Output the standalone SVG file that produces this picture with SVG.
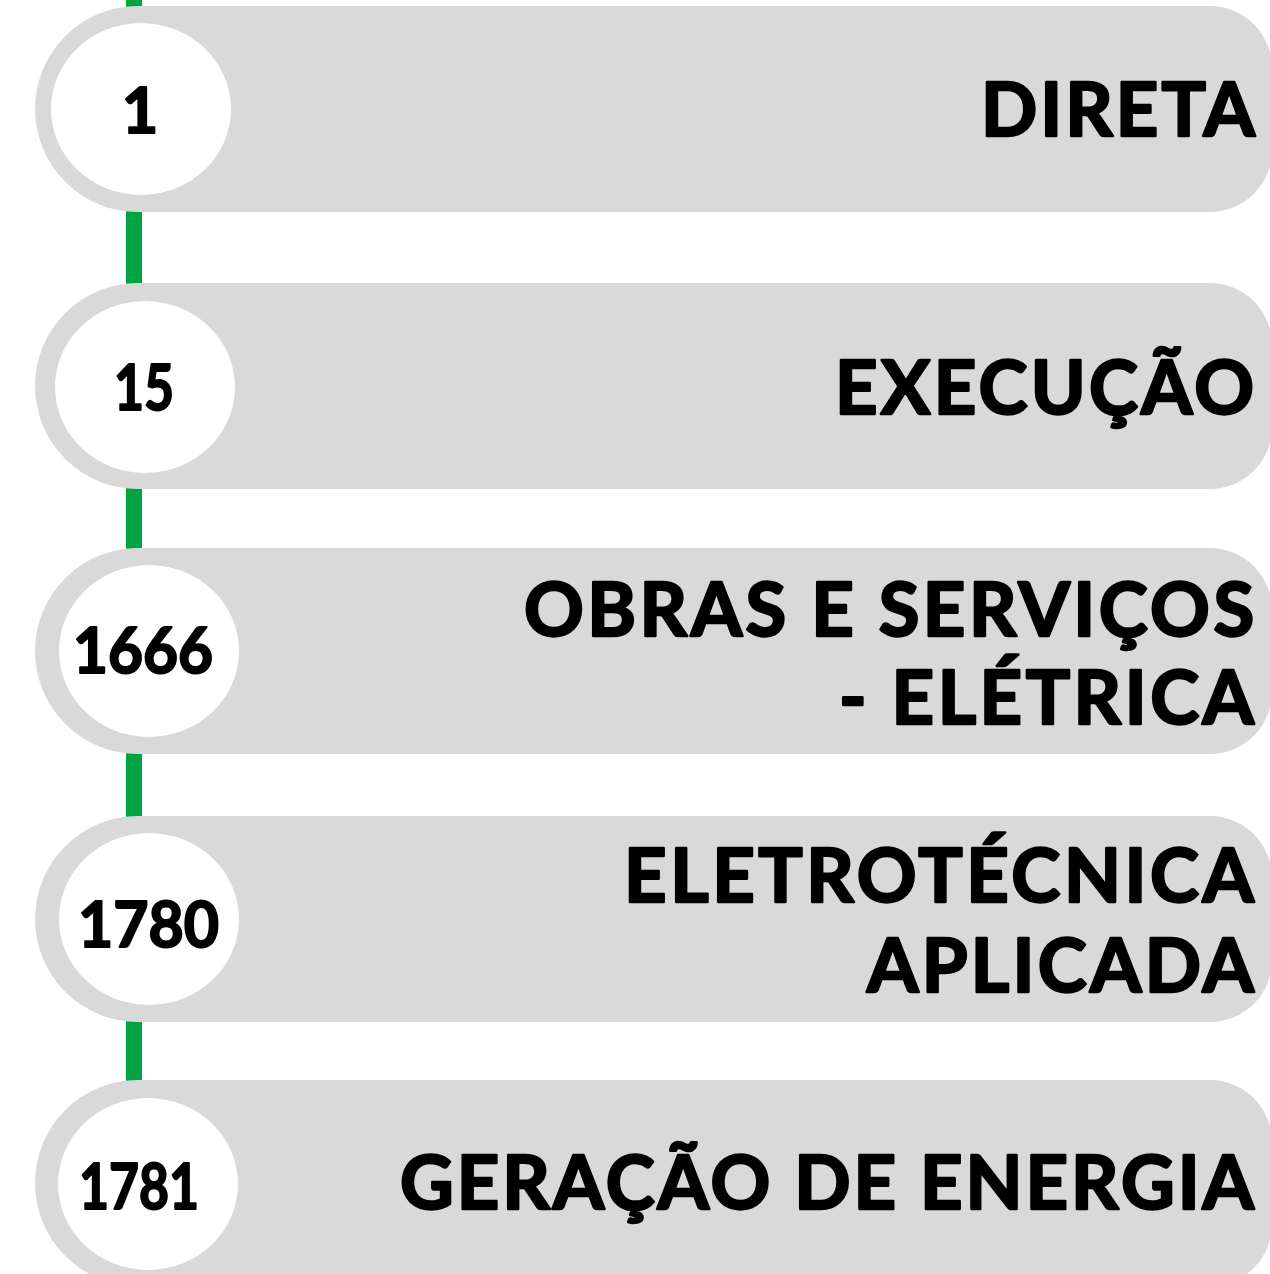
<svg xmlns="http://www.w3.org/2000/svg" width="1270" height="1274" viewBox="0 0 1270 1274">
<defs>
<style>
.pill{fill:#d9d9d9}
.hole{fill:#ffffff}
.num{font-family:"Lato","Liberation Sans",sans-serif;font-weight:700;font-size:63px;fill:#000;stroke:#000;stroke-width:2;stroke-linejoin:round}
.lbl{font-family:"Lato","Liberation Sans",sans-serif;font-weight:700;font-size:74px;fill:#000;stroke:#000;stroke-width:2.5;stroke-linejoin:round}
</style>
</defs>
<rect width="1270" height="1274" fill="#ffffff"/>
<g id="connectors">
<rect x="126" y="0" width="16" height="1090" fill="#00a444"/>
</g>
<g id="node1">
<path class="pill" d="M138 6 H1210 A62 62 0 0 1 1272 68 V150 A62 62 0 0 1 1210 212 H138 A103 103 0 0 1 138 6 Z"/>
<ellipse class="hole" cx="141" cy="109" rx="90" ry="86"/>
<text class="num" x="140" y="133" text-anchor="middle">1</text>
<text class="lbl" x="981" y="136" textLength="274" lengthAdjust="spacing">DIRETA</text>
</g>
<g id="node2">
<path class="pill" d="M138 283 H1210 A62 62 0 0 1 1272 345 V427 A62 62 0 0 1 1210 489 H138 A103 103 0 0 1 138 283 Z"/>
<ellipse class="hole" cx="145" cy="387" rx="90" ry="86"/>
<text class="num" x="114" y="410" textLength="60" lengthAdjust="spacingAndGlyphs">15</text>
<text class="lbl" x="835" y="414" textLength="419" lengthAdjust="spacing">EXECUÇÃO</text>
</g>
<g id="node3">
<path class="pill" d="M138 548 H1210 A62 62 0 0 1 1272 610 V692 A62 62 0 0 1 1210 754 H138 A103 103 0 0 1 138 548 Z"/>
<ellipse class="hole" cx="149" cy="651" rx="90" ry="86"/>
<text class="num" x="73" y="673" textLength="140" lengthAdjust="spacingAndGlyphs">1666</text>
<text class="lbl" x="524" y="636" textLength="730" lengthAdjust="spacing">OBRAS E SERVIÇOS</text>
<text class="lbl" x="839" y="724" textLength="415" lengthAdjust="spacing">- ELÉTRICA</text>
</g>
<g id="node4">
<path class="pill" d="M138 816 H1210 A62 62 0 0 1 1272 878 V960 A62 62 0 0 1 1210 1022 H138 A103 103 0 0 1 138 816 Z"/>
<ellipse class="hole" cx="149" cy="919" rx="90" ry="86"/>
<text class="num" x="78" y="947" textLength="141" lengthAdjust="spacingAndGlyphs">1780</text>
<text class="lbl" x="624" y="902" textLength="630" lengthAdjust="spacing">ELETROTÉCNICA</text>
<text class="lbl" x="867" y="992" textLength="387" lengthAdjust="spacing">APLICADA</text>
</g>
<g id="node5">
<path class="pill" d="M138 1080 H1210 A62 62 0 0 1 1272 1142 V1224 A62 62 0 0 1 1210 1286 H138 A103 103 0 0 1 138 1080 Z"/>
<ellipse class="hole" cx="148" cy="1184" rx="90" ry="86"/>
<text class="num" x="79" y="1209" textLength="120" lengthAdjust="spacingAndGlyphs">1781</text>
<text class="lbl" x="400" y="1209" textLength="854" lengthAdjust="spacing">GERAÇÃO DE ENERGIA</text>
</g>
</svg>
